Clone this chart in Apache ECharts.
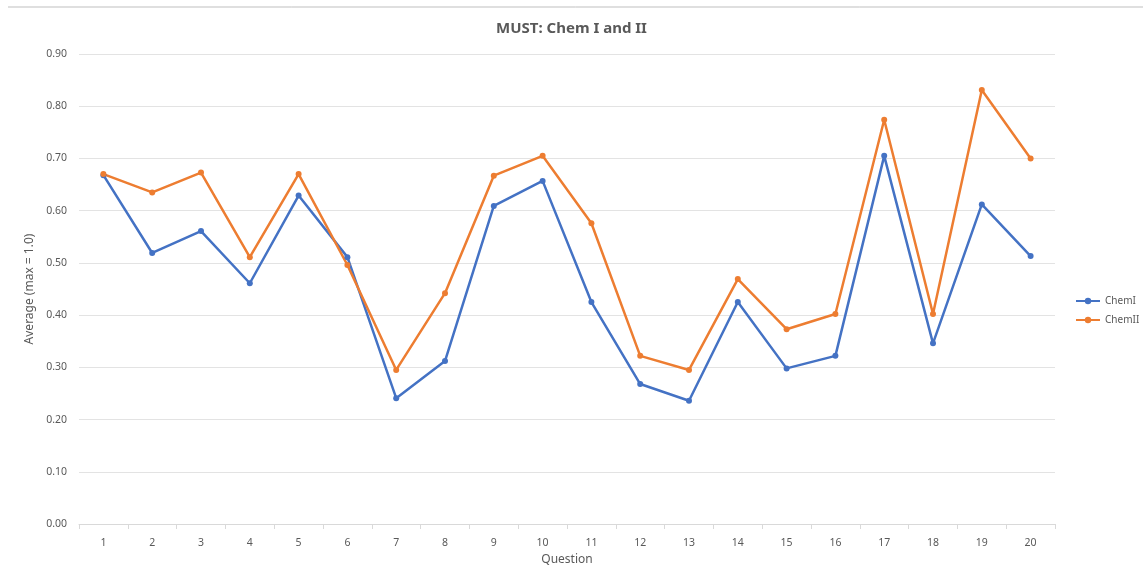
<!DOCTYPE html>
<html><head><meta charset="utf-8">
<script src="https://cdn.jsdelivr.net/npm/echarts@6/dist/echarts.min.js"></script>
<style>html,body{margin:0;padding:0;background:#fff}#c{width:1143px;height:567px}</style>
</head><body><div id="c"></div>
<script>
const questions = ['1','2','3','4','5','6','7','8','9','10','11','12','13','14','15','16','17','18','19','20'];
const chemI  = [0.668,0.519,0.561,0.461,0.629,0.511,0.241,0.312,0.609,0.657,0.425,0.268,0.236,0.425,0.298,0.322,0.705,0.346,0.612,0.513];
const chemII = [0.670,0.635,0.673,0.511,0.670,0.496,0.295,0.442,0.667,0.705,0.576,0.322,0.295,0.469,0.373,0.402,0.774,0.402,0.831,0.700];
const yTicks = [0,0.1,0.2,0.3,0.4,0.5,0.6,0.7,0.8,0.9];

const FONT = 'Noto Sans';
const chart = echarts.init(document.getElementById('c'));
chart.setOption({
  animation:false,
  textStyle:{fontFamily:FONT},
  title:{text:'MUST: Chem I and II',left:'center',top:16,
    textStyle:{fontFamily:FONT,fontSize:15,fontWeight:'bold',color:'#595959'}},
  graphic:[{type:'line',shape:{x1:8,y1:7,x2:1143,y2:7},style:{stroke:'#bfbfbf',lineWidth:1}}],
  legend:{orient:'vertical',left:1070,top:291,itemGap:9,itemWidth:24,itemHeight:8,padding:[5,0,5,5],
    textStyle:{fontSize:10,color:'#595959',fontFamily:FONT},
    data:['ChemI','ChemII']},
  grid:{left:79,right:88,top:54,bottom:43,containLabel:false,outerBoundsMode:'none'},
  xAxis:{type:'category',data:questions,boundaryGap:true,
    name:'Question',nameLocation:'middle',nameGap:30,
    nameTextStyle:{fontSize:12,color:'#595959'},
    axisLine:{lineStyle:{color:'#d9d9d9'}},
    axisTick:{show:true,length:5,lineStyle:{color:'#d9d9d9'}},
    axisLabel:{fontSize:10.5,color:'#595959',margin:14}},
  yAxis:{type:'value',min:0,max:0.9,interval:0.1,
    name:'Average (max = 1.0)',nameLocation:'middle',nameGap:38,
    nameTextStyle:{fontSize:12,color:'#595959'},
    axisLine:{show:false},axisTick:{show:false},
    axisLabel:{fontSize:10.5,color:'#595959',margin:12,formatter:v=>v.toFixed(2)},
    splitLine:{lineStyle:{color:'#e3e3e3',width:1}}},
  series:[
    {name:'ChemI',type:'line',data:chemI,symbol:'circle',symbolSize:6,
      lineStyle:{color:'#4472C4',width:2.5},itemStyle:{color:'#4472C4'}},
    {name:'ChemII',type:'line',data:chemII,symbol:'circle',symbolSize:6,
      lineStyle:{color:'#ED7D31',width:2.5},itemStyle:{color:'#ED7D31'}}
  ]
});
</script></body></html>
